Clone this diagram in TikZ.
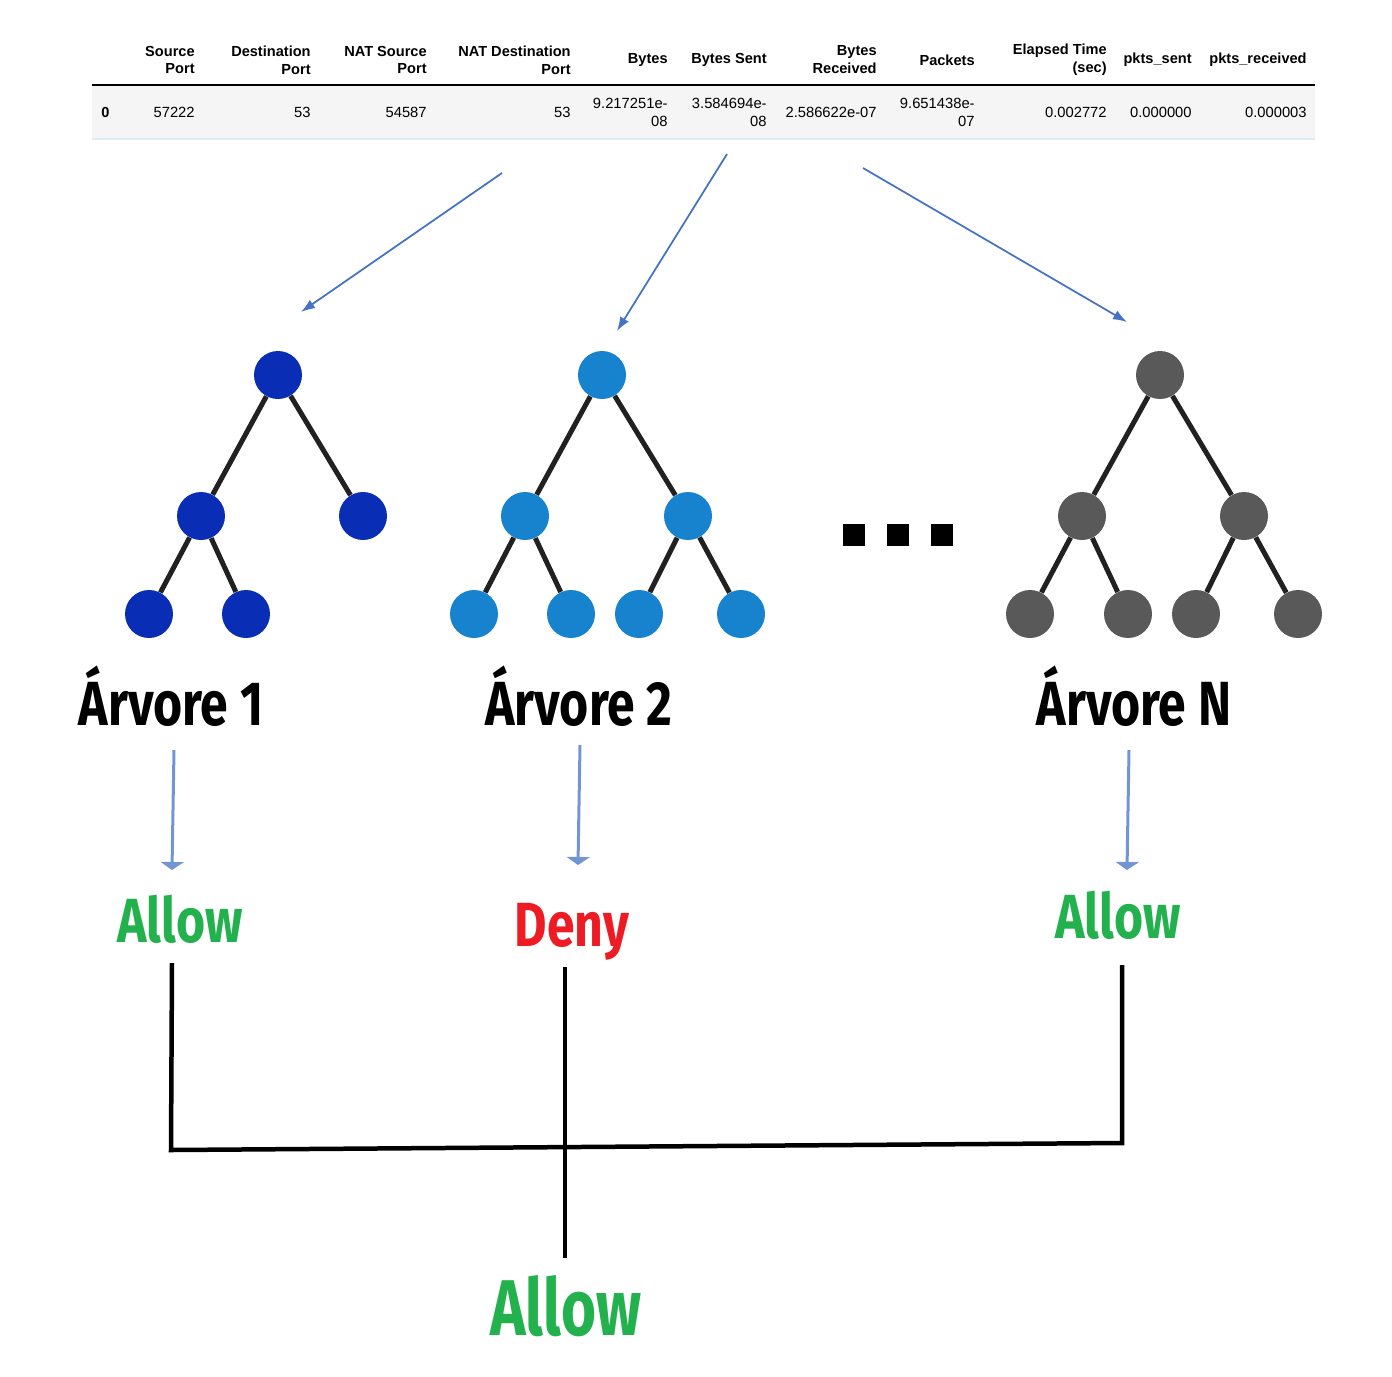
\documentclass[tikz,border=0pt]{standalone}
\usepackage{fontspec}
\setmainfont{Liberation Sans}
\newfontfamily\dinfont{Fira Sans}[FakeStretch=0.80]
\newfontfamily\dinfinal{Fira Sans}[FakeStretch=0.76]
\usetikzlibrary{arrows.meta,positioning}
\definecolor{arrowblue}{HTML}{4472C4}
\definecolor{treeone}{HTML}{0A2DB5}
\definecolor{treetwo}{HTML}{1782CE}
\definecolor{treegray}{HTML}{595959}
\definecolor{allowgreen}{HTML}{22B14C}
\definecolor{denyred}{HTML}{ED1C24}
\definecolor{rowgray}{HTML}{F5F5F5}
\definecolor{rowline}{HTML}{DCEBF7}
\tikzset{
  hdr/.style={anchor=east, align=right, inner sep=0pt, font=\fontsize{8.3}{10.2}\selectfont\bfseries},
  cell/.style={anchor=east, align=right, inner sep=0pt, font=\fontsize{8.4}{10.2}\selectfont},
  tnode/.style={circle, fill=#1, minimum size=0.96cm, inner sep=0pt},
  edge/.style={line width=0.1cm, draw=black!87},
  pick/.style={-{Latex[length=0.28cm,width=0.2cm]}, line width=0.035cm, arrowblue},
  vote/.style={-{Triangle[length=0.16cm,width=0.46cm]}, line width=0.06cm, arrowblue!75},
  title/.style={anchor=base, inner sep=0pt, font=\dinfont\bfseries\fontsize{35.5}{40}\selectfont},
  answer/.style={anchor=base, inner sep=0pt, font=\dinfont\bfseries\fontsize{35.5}{40}\selectfont},
  dotsq/.style={rectangle, fill=black, minimum size=0.44cm, inner sep=0pt},
  bracket/.style={line width=0.09cm, black}
}

\begin{document}
\begin{tikzpicture}[x=0.02cm, y=-0.02cm]
  \useasboundingbox (0,0) rectangle (1392,1376);

  % table
  \fill[rowgray] (92,86) rectangle (1315,138);
  \draw[rowline, line width=0.04cm] (92,139) -- (1315,139);
  \draw[black, line width=0.03cm] (92,85) -- (1315,85);
  \node[hdr] (srcport) at (195,60) {Source\\Port};
  \node[hdr] (dstport) at (311,60) {Destination\\Port};
  \node[hdr] (natsrc) at (427,60) {NAT Source\\Port};
  \node[hdr] (natdst) at (571,60) {NAT Destination\\Port};
  \node[hdr] (bytes) at (668,60) {Bytes};
  \node[hdr] (bsent) at (767,60) {Bytes Sent};
  \node[hdr] (brecv) at (877,60) {Bytes\\Received};
  \node[hdr] (packets) at (975,60) {Packets};
  \node[hdr] (elapsed) at (1107,60) {Elapsed Time\\(sec)};
  \node[hdr] (psent) at (1192,60) {pkts\_sent};
  \node[hdr] (precv) at (1307,60) {pkts\_received};
  \node[hdr, anchor=west] (idx) at (101,112) {0};
  \node[cell] (vsrc) at (195,112) {57222};
  \node[cell] (vdst) at (311,112) {53};
  \node[cell] (vnatsrc) at (427,112) {54587};
  \node[cell] (vnatdst) at (571,112) {53};
  \node[cell] (vbytes) at (668,112) {9.217251e-\\08};
  \node[cell] (vbsent) at (767,112) {3.584694e-\\08};
  \node[cell] (vbrecv) at (877,112) {2.586622e-07};
  \node[cell] (vpackets) at (975,112) {9.651438e-\\07};
  \node[cell] (velapsed) at (1107,112) {0.002772};
  \node[cell] (vpsent) at (1192,112) {0.000000};
  \node[cell] (vprecv) at (1307,112) {0.000003};

  % arrows to the trees
  \coordinate (from1) at (502,173);
  \coordinate (to1) at (301,312);
  \coordinate (from2) at (727,154);
  \coordinate (to2) at (617,331);
  \coordinate (fromN) at (863,168);
  \coordinate (toN) at (1127,322);
  \draw[pick] (from1) -- (to1);
  \draw[pick] (from2) -- (to2);
  \draw[pick] (fromN) -- (toN);

  % tree 1
  \node[tnode=treeone] (t1root) at (278,375) {};
  \node[tnode=treeone] (t1l) at (201,516) {};
  \node[tnode=treeone] (t1r) at (363,516) {};
  \node[tnode=treeone] (t1ll) at (149,614) {};
  \node[tnode=treeone] (t1lr) at (246,614) {};
  \draw[edge] (t1root) -- (t1l);
  \draw[edge] (t1root) -- (t1r);
  \draw[edge] (t1l) -- (t1ll);
  \draw[edge] (t1l) -- (t1lr);

  % tree 2
  \node[tnode=treetwo] (t2root) at (602,375) {};
  \node[tnode=treetwo] (t2l) at (525,516) {};
  \node[tnode=treetwo] (t2r) at (688,516) {};
  \node[tnode=treetwo] (t2ll) at (474,614) {};
  \node[tnode=treetwo] (t2lr) at (571,614) {};
  \node[tnode=treetwo] (t2rl) at (639,614) {};
  \node[tnode=treetwo] (t2rr) at (741,614) {};
  \draw[edge] (t2root) -- (t2l);
  \draw[edge] (t2root) -- (t2r);
  \draw[edge] (t2l) -- (t2ll);
  \draw[edge] (t2l) -- (t2lr);
  \draw[edge] (t2r) -- (t2rl);
  \draw[edge] (t2r) -- (t2rr);

  % dots
  \node[dotsq] (dot1) at (854,535) {};
  \node[dotsq] (dot2) at (898,535) {};
  \node[dotsq] (dot3) at (942,535) {};

  % tree N
  \node[tnode=treegray] (tNroot) at (1160,375) {};
  \node[tnode=treegray] (tNl) at (1082,516) {};
  \node[tnode=treegray] (tNr) at (1244,516) {};
  \node[tnode=treegray] (tNll) at (1030,614) {};
  \node[tnode=treegray] (tNlr) at (1128,614) {};
  \node[tnode=treegray] (tNrl) at (1196,614) {};
  \node[tnode=treegray] (tNrr) at (1298,614) {};
  \draw[edge] (tNroot) -- (tNl);
  \draw[edge] (tNroot) -- (tNr);
  \draw[edge] (tNl) -- (tNll);
  \draw[edge] (tNl) -- (tNlr);
  \draw[edge] (tNr) -- (tNrl);
  \draw[edge] (tNr) -- (tNrr);

  % tree names
  \node[title] (tree1) at (171,725) {Árvore 1};
  \node[title] (tree2) at (579,725) {Árvore 2};
  \node[title] (treeN) at (1134,725) {Árvore N};

  % votes
  \coordinate (down1) at (174,750);
  \coordinate (down2) at (580,745);
  \coordinate (downN) at (1129,750);
  \coordinate (up1) at (172,870);
  \coordinate (up2) at (578,865);
  \coordinate (upN) at (1127,870);
  \draw[vote] (down1) -- (up1);
  \draw[vote] (down2) -- (up2);
  \draw[vote] (downN) -- (upN);
  \node[answer, allowgreen] (vote1) at (180,942) {Allow};
  \node[answer, denyred] (vote2) at (572,946) {Deny};
  \node[answer, allowgreen] (voteN) at (1118,938) {Allow};

  % majority
  \coordinate (b1top) at (172,963);
  \coordinate (b1bot) at (171,1150);
  \coordinate (b2top) at (565,967);
  \coordinate (b2bot) at (565,1258);
  \coordinate (b3top) at (1122,965);
  \coordinate (b3bot) at (1122,1143);
  \draw[bracket] (b1top) -- (b1bot) -- (b3bot) -- (b3top);
  \draw[bracket] (b2top) -- (b2bot);
  \node[answer, allowgreen, font=\dinfinal\bfseries\fontsize{45}{50}\selectfont] (final) at (566,1335) {Allow};
\end{tikzpicture}
\end{document}
